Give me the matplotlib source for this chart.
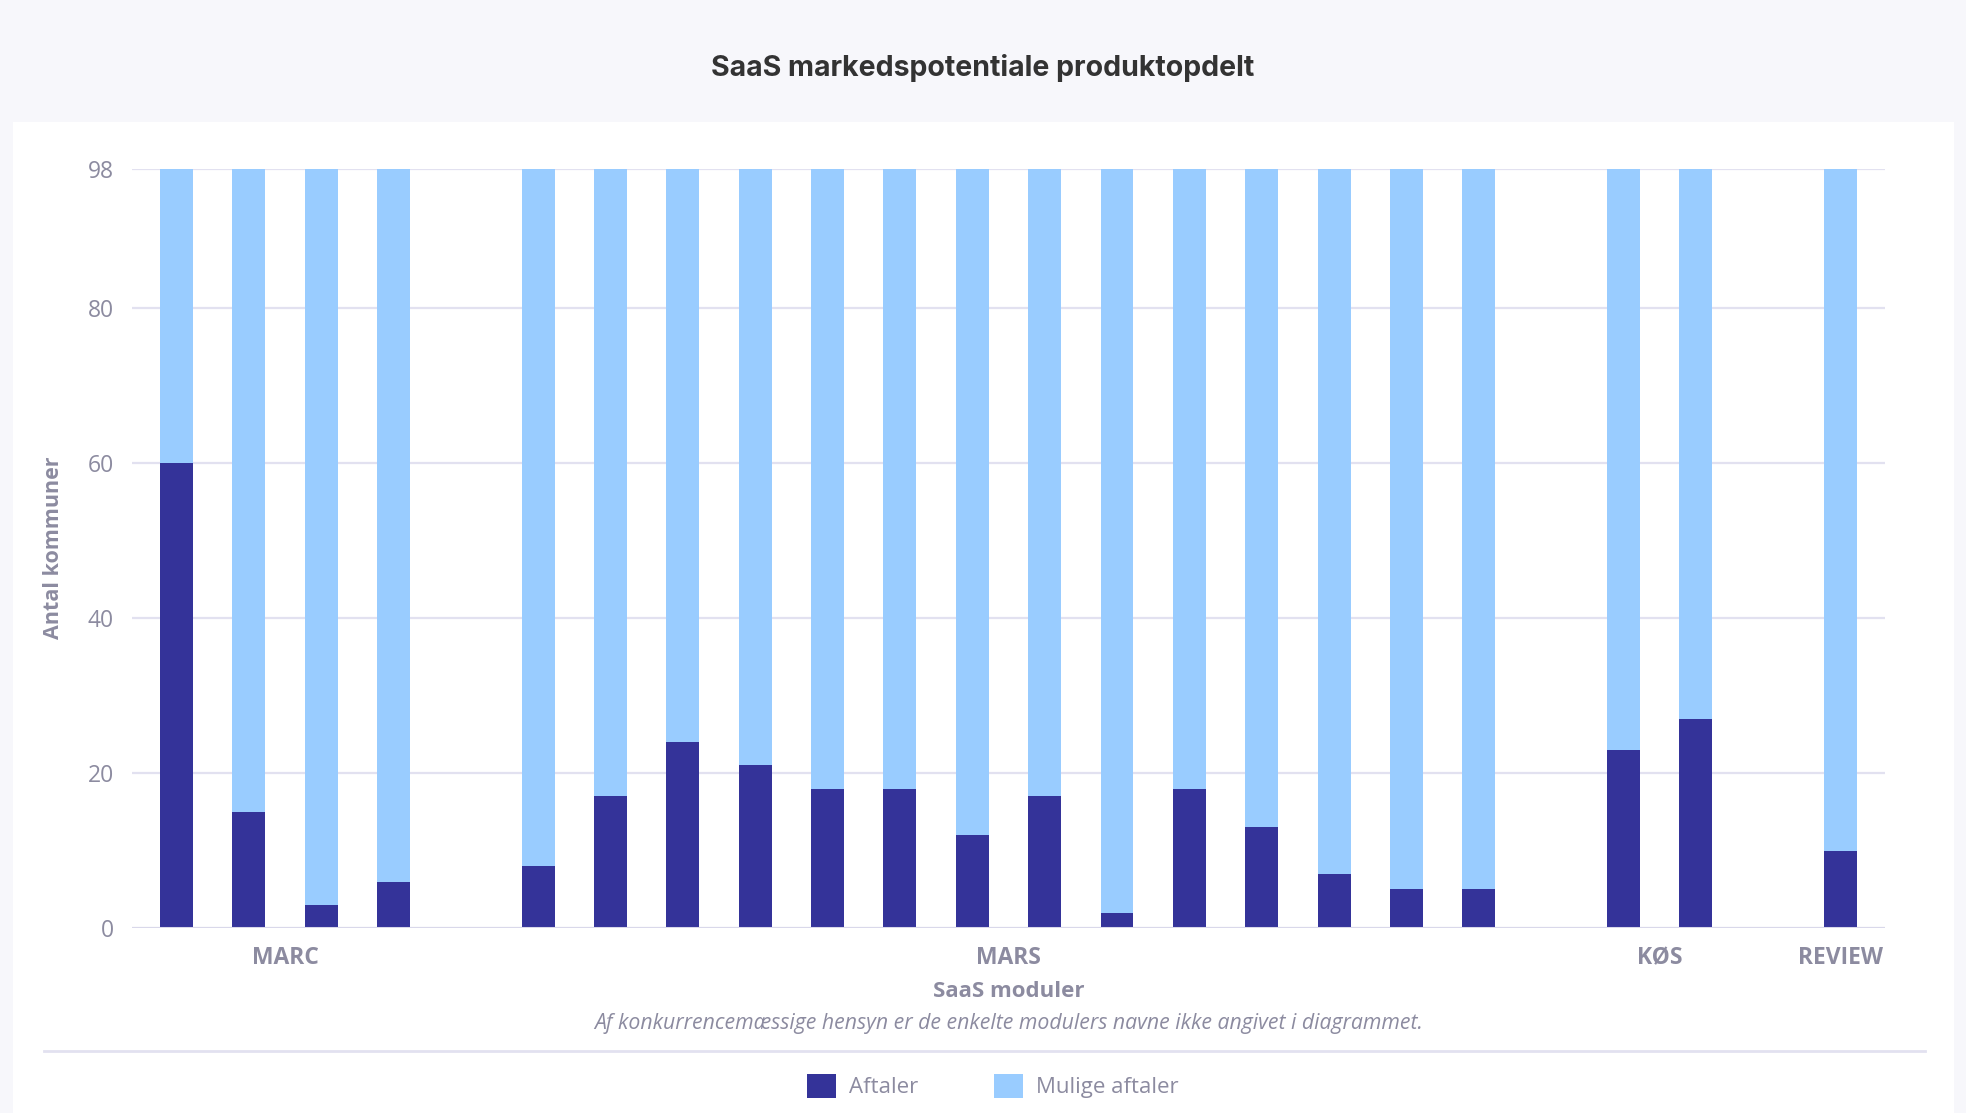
import matplotlib
matplotlib.use("Agg")
import matplotlib.pyplot as plt
from matplotlib.patches import Rectangle, Patch
from matplotlib.lines import Line2D
import numpy as np

BG = "#f7f7fb"; CARD = "#ffffff"; INK = "#333333"; GREY = "#8c8ba0"
GRID = "#e2e1f0"; DARK = "#343399"; LIGHT = "#99ccff"

# ---------------------------------------------------------------- data
groups = ["MARC", "MARS", "KØS", "REVIEW"]
group_sizes = [4, 14, 2, 1]
aftaler = [60, 15, 3, 6,
           8, 17, 24, 21, 18, 18, 12, 17, 2, 18, 13, 7, 5, 5,
           23, 27,
           10]
mulige = [38, 83, 95, 92,
          90, 81, 74, 77, 80, 80, 86, 81, 96, 80, 85, 91, 93, 93,
          75, 71,
          88]
yticks = [0, 20, 40, 60, 80, 98]

plt.rcParams.update({
    "font.family": ["Open Sans", "DejaVu Sans"],
    "font.size": 16,
    "figure.facecolor": BG,
    "axes.facecolor": CARD,
})

# slot positions: one empty slot between groups
pos, centers, start = [], [], 0
for n in group_sizes:
    p = list(range(start, start + n))
    pos += p
    centers.append((p[0] + p[-1]) / 2)
    start += n + 1
pos = np.array(pos)

fig = plt.figure(figsize=(19.66, 11.13), dpi=100)
fig.patches.append(Rectangle((0.0064, 0), 0.9875, 0.8904, transform=fig.transFigure,
                             facecolor=CARD, edgecolor="none", zorder=-5))
ax = fig.add_axes([0.0671, 0.1662, 0.8917, 0.6820])
ax.set_zorder(2)

w = 0.455
ax.bar(pos, aftaler, width=w, color=DARK, zorder=3, label="Aftaler")
ax.bar(pos, mulige, width=w, bottom=aftaler, color=LIGHT, zorder=3, label="Mulige aftaler")

ax.set_xlim(-0.615, pos[-1] + 0.615)
ax.set_ylim(0, 98)
ax.set_yticks(yticks)
ax.yaxis.grid(True, color=GRID, lw=1.6, zorder=0)
ax.set_axisbelow(True)
for s in ["top", "right", "left", "bottom"]:
    ax.spines[s].set_visible(False)
ax.axhline(0, color="#d9d8ea", lw=2.2, zorder=4)
ax.tick_params(axis="y", length=0, pad=13, labelcolor=GREY, labelsize=16.5)
ax.set_xticks(centers)
ax.set_xticklabels(groups, fontweight="bold", color=GREY, fontsize=16.5)
ax.tick_params(axis="x", length=0, pad=13)

fig.text(0.5, 0.939, "SaaS markedspotentiale produktopdelt", ha="center", va="center",
         fontsize=20.5, fontweight="bold", color=INK, family=["Inter", "Open Sans"])
fig.text(0.027, 0.5076, "Antal kommuner", rotation=90, ha="center", va="center",
         fontsize=15.5, fontweight="bold", color=GREY)
fig.text(0.513, 0.1096, "SaaS moduler", ha="center", va="center",
         fontsize=16, fontweight="bold", color=GREY)
fig.text(0.513, 0.080, "Af konkurrencemæssige hensyn er de enkelte modulers navne ikke angivet i diagrammet.",
         ha="center", va="center", fontsize=15.3, style="italic", color=GREY)
fig.lines.append(Line2D([0.0224, 0.979], [0.0557, 0.0557], transform=fig.transFigure,
                        color=GRID, lw=2))

handles = [Patch(facecolor=DARK), Patch(facecolor=LIGHT)]
fig.legend(handles, ["Aftaler", "Mulige aftaler"], loc="center", bbox_to_anchor=(0.505, 0.0243),
           ncol=2, frameon=False, fontsize=16, labelcolor=GREY,
           handlelength=1.3, handleheight=1.3, handletextpad=0.6, columnspacing=3.4)

fig.savefig("out.png", facecolor=BG)
